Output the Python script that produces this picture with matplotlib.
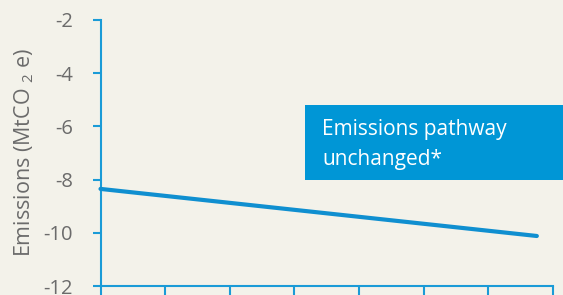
import matplotlib
matplotlib.use("Agg")
import matplotlib.pyplot as plt
from matplotlib.patches import Rectangle

# Data
years = [0, 6.75]
emissions = [-8.35, -10.12]
yticks = [-2, -4, -6, -8, -10, -12]
xticks = [0, 1, 2, 3, 4, 5, 6, 7]
box_lines = ["Emissions pathway", "unchanged*"]

BG = "#f3f2ea"
AXIS = "#1a9bd7"
LINE = "#0f8fd0"
BOX = "#0096d6"
GREY = "#6b6b6b"

plt.rcParams["font.family"] = ["Open Sans", "DejaVu Sans"]
plt.rcParams["mathtext.fontset"] = "custom"
plt.rcParams["mathtext.rm"] = "Open Sans"
plt.rcParams["mathtext.it"] = "Open Sans"

W, H = 563, 295
fig = plt.figure(figsize=(W / 100, H / 100), dpi=100, facecolor=BG)
left, right, top, bottom = 100.5, 553, 20, 286
ax = fig.add_axes([left / W, 1 - bottom / H, (right - left) / W, (bottom - top) / H])
ax.set_facecolor(BG)

ax.plot(years, emissions, color=LINE, lw=3.0, solid_capstyle="round", clip_on=False, zorder=3)

ax.set_xlim(0, 7)
ax.set_ylim(-12, -2)
ax.set_yticks(yticks)
ax.set_yticklabels([str(v) for v in yticks])
ax.set_xticks(xticks)
ax.set_xticklabels([])

for s in ["top", "right"]:
    ax.spines[s].set_visible(False)
for s in ["left", "bottom"]:
    ax.spines[s].set_color(AXIS)
    ax.spines[s].set_linewidth(1.5)

ax.tick_params(axis="y", direction="out", length=6, width=1.5, color=AXIS,
               labelsize=14.5, labelcolor=GREY, pad=14)
ax.tick_params(axis="x", direction="out", length=7, width=1.5, color=AXIS)

ax.set_ylabel("Emissions (MtCO $_{2}$ e)", fontsize=15.5, color=GREY, labelpad=5)

# Annotation box
fig.add_artist(Rectangle((305 / W, 1 - 180 / H), 300 / W, 75 / H,
                         transform=fig.transFigure, facecolor=BOX, edgecolor="none", zorder=5))
fig.text(322 / W, 1 - 135.5 / H, box_lines[0], color="white", fontsize=15,
         va="baseline", ha="left", zorder=6)
fig.text(322 / W, 1 - 165 / H, box_lines[1], color="white", fontsize=15,
         va="baseline", ha="left", zorder=6)

fig.savefig("out.png", dpi=100, facecolor=BG)
